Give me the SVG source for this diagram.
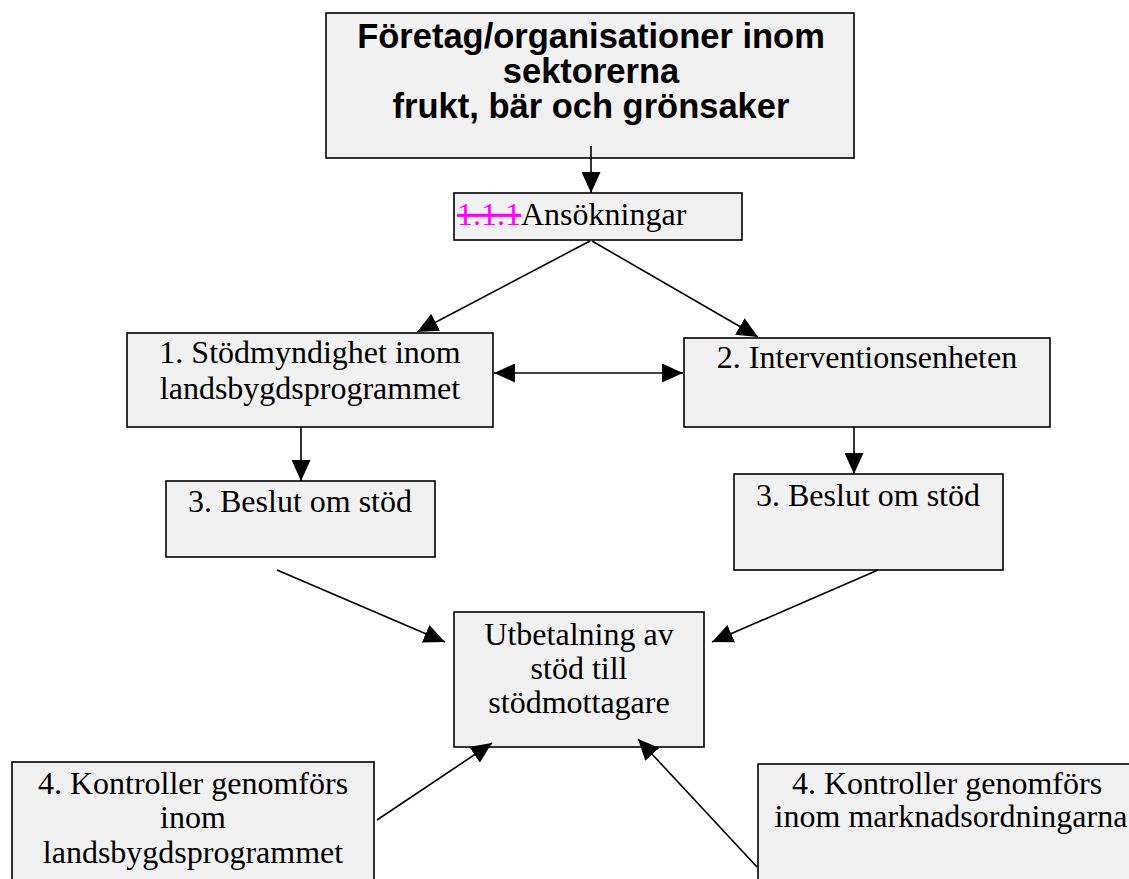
<svg xmlns="http://www.w3.org/2000/svg" width="1129" height="879" viewBox="0 0 1129 879">
<style>
.box{fill:#f1f1f1;stroke:#000;stroke-width:1.6}
.t{font-family:"Liberation Serif","Times New Roman",serif;font-size:32px;fill:#000;text-anchor:middle}
.h{font-family:"Liberation Sans",Arial,sans-serif;font-size:34.5px;font-weight:bold;fill:#000;text-anchor:middle}
.c{stroke:#000;stroke-width:1.6;fill:none;marker-end:url(#ah)}
</style>
<defs>
<marker id="ah" markerUnits="userSpaceOnUse" markerWidth="21" markerHeight="19" refX="21" refY="9.5" orient="auto-start-reverse" viewBox="0 0 21 19">
<path d="M0,0 L21,9.5 L0,19 z" fill="#000"/>
</marker>
</defs>
<rect width="1129" height="879" fill="#fff"/>
<g id="n-top">
<rect class="box" x="326" y="13" width="528" height="145"/>
<text class="h" x="591" y="48">Företag/organisationer inom</text>
<text class="h" x="591" y="83">sektorerna</text>
<text class="h" x="591" y="118">frukt, bär och grönsaker</text>
</g>
<g id="n-ans">
<rect class="box" x="454" y="193" width="288" height="47"/>
<text class="t" x="457" y="225" style="text-anchor:start"><tspan fill="#ff00ff" text-decoration="line-through">1.1.1</tspan>Ansökningar</text>
</g>
<g id="n-1">
<rect class="box" x="127" y="333" width="366" height="94"/>
<text class="t" x="310" y="363">1. Stödmyndighet inom</text>
<text class="t" x="310" y="399">landsbygdsprogrammet</text>
</g>
<g id="n-2">
<rect class="box" x="684" y="338" width="366" height="89"/>
<text class="t" x="867" y="368">2. Interventionsenheten</text>
</g>
<g id="n-3l">
<rect class="box" x="166" y="481" width="269" height="76"/>
<text class="t" x="300" y="512">3. Beslut om stöd</text>
</g>
<g id="n-3r">
<rect class="box" x="734" y="474" width="269" height="96"/>
<text class="t" x="868" y="506">3. Beslut om stöd</text>
</g>
<g id="n-pay">
<rect class="box" x="454" y="612" width="250" height="135"/>
<text class="t" x="579" y="645">Utbetalning av</text>
<text class="t" x="579" y="679">stöd till</text>
<text class="t" x="579" y="713">stödmottagare</text>
</g>
<g id="n-4l">
<rect class="box" x="12" y="762" width="362" height="130"/>
<text class="t" x="193" y="794">4. Kontroller genomförs</text>
<text class="t" x="193" y="828">inom</text>
<text class="t" x="193" y="863">landsbygdsprogrammet</text>
</g>
<g id="n-4r">
<rect class="box" x="758" y="764" width="386" height="130"/>
<text class="t" x="947" y="794">4. Kontroller genomförs</text>
<text class="t" x="951" y="827">inom marknadsordningarna</text>
</g>
<g id="connectors">
<line class="c" x1="591" y1="146" x2="591" y2="193"/>
<line class="c" x1="590" y1="241" x2="417" y2="332"/>
<line class="c" x1="592" y1="241" x2="758" y2="337"/>
<line class="c" x1="494" y1="373" x2="683" y2="373" style="marker-start:url(#ah)"/>
<line class="c" x1="301" y1="427" x2="301" y2="481"/>
<line class="c" x1="854" y1="427" x2="854" y2="474"/>
<line class="c" x1="277" y1="570" x2="445" y2="642"/>
<line class="c" x1="878" y1="570" x2="712" y2="642"/>
<line class="c" x1="377" y1="820" x2="492" y2="743"/>
<line class="c" x1="757" y1="867" x2="638" y2="739"/>
</g>
</svg>
